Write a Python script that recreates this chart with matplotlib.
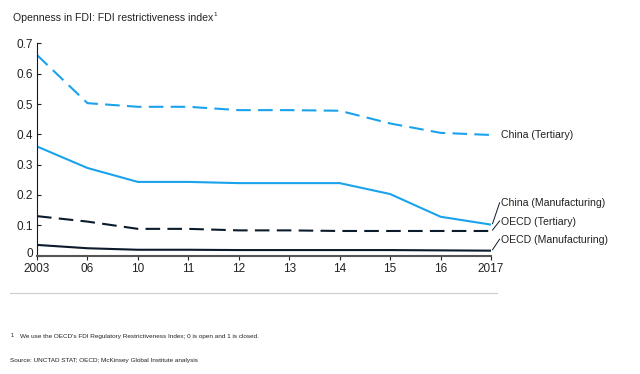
import matplotlib.pyplot as plt
import matplotlib.transforms as mtransforms
from matplotlib.lines import Line2D

plt.rcParams['font.family'] = ['Liberation Sans', 'DejaVu Sans']

years = ['2003', '06', '10', '11', '12', '13', '14', '15', '16', '2017']
china_tertiary = [0.662, 0.503, 0.491, 0.491, 0.480, 0.480, 0.478, 0.436, 0.405, 0.398]
china_manuf = [0.360, 0.289, 0.243, 0.243, 0.239, 0.239, 0.239, 0.203, 0.128, 0.102]
oecd_tertiary = [0.130, 0.112, 0.088, 0.088, 0.083, 0.083, 0.081, 0.081, 0.081, 0.081]
oecd_manuf = [0.035, 0.024, 0.019, 0.019, 0.018, 0.018, 0.018, 0.018, 0.017, 0.016]

blue = '#1AA3EC'
navy = '#0B1B2B'
txt = '#222222'

fig = plt.figure(figsize=(6.4, 3.74), dpi=100)
ax = fig.add_axes([0.0578, 0.3168, 0.7094, 0.5669])
x = range(len(years))

dash = (0, (7, 3.5))
ax.plot(x, china_tertiary, color=blue, lw=1.5, linestyle=dash)
ax.plot(x, china_manuf, color=blue, lw=1.5)
ax.plot(x, oecd_tertiary, color=navy, lw=1.5, linestyle=dash)
ax.plot(x, oecd_manuf, color=navy, lw=1.5)

ax.set_xlim(0, 9)
ax.set_ylim(0, 0.7)
ax.set_xticks(list(x))
ax.set_xticklabels(years)
ax.set_yticks([0, 0.1, 0.2, 0.3, 0.4, 0.5, 0.6, 0.7])
ax.set_yticklabels(['0', '0.1', '0.2', '0.3', '0.4', '0.5', '0.6', '0.7'])
for s in ['top', 'right']:
    ax.spines[s].set_visible(False)
ax.spines['left'].set_color(navy)
ax.spines['bottom'].set_color('#555555')
ax.spines['bottom'].set_linewidth(1.5)
ax.tick_params(axis='y', direction='in', length=3, width=0.8, labelsize=8.5, pad=3, colors=txt)
ax.tick_params(axis='x', direction='out', length=3, width=0.8, labelsize=8.5, pad=2.5, colors=txt)

# nudge the "0" label up a little so it clears "2003"
zero = ax.get_yticklabels()[0]
zero.set_transform(zero.get_transform() + mtransforms.ScaledTranslation(0, 2 / 72, fig.dpi_scale_trans))

# series labels with leader lines
lab_x = 9.2
labels = [('China (Tertiary)', china_tertiary[-1], china_tertiary[-1], False),
          ('China (Manufacturing)', china_manuf[-1], 0.172, True),
          ('OECD (Tertiary)', oecd_tertiary[-1], 0.112, True),
          ('OECD (Manufacturing)', oecd_manuf[-1], 0.052, True)]
for text, yv, ty, leader in labels:
    ax.text(lab_x, ty, text, fontsize=7.6, va='center', ha='left', color=txt, clip_on=False)
    if leader:
        ax.add_line(Line2D([9.03, 9.17], [yv + 0.003, ty + 0.002], color=navy, lw=0.7, clip_on=False))

fig.text(0.02, 0.952, 'Openness in FDI: FDI restrictiveness index', fontsize=7.6, color=txt, va='center')
fig.text(0.334, 0.962, '1', fontsize=4.5, color=txt, va='center')
fig.add_artist(Line2D([0.016, 0.777], [0.217, 0.217], color='#cccccc', lw=0.8))
fig.text(0.016, 0.103, '1', fontsize=4, color=txt, va='center')
fig.text(0.031, 0.099, "We use the OECD's FDI Regulatory Restrictiveness Index; 0 is open and 1 is closed.",
         fontsize=4.6, color=txt, va='center')
fig.text(0.016, 0.035, 'Source: UNCTAD STAT; OECD; McKinsey Global Institute analysis',
         fontsize=4.6, color=txt, va='center')

fig.savefig('out.png', dpi=100)
